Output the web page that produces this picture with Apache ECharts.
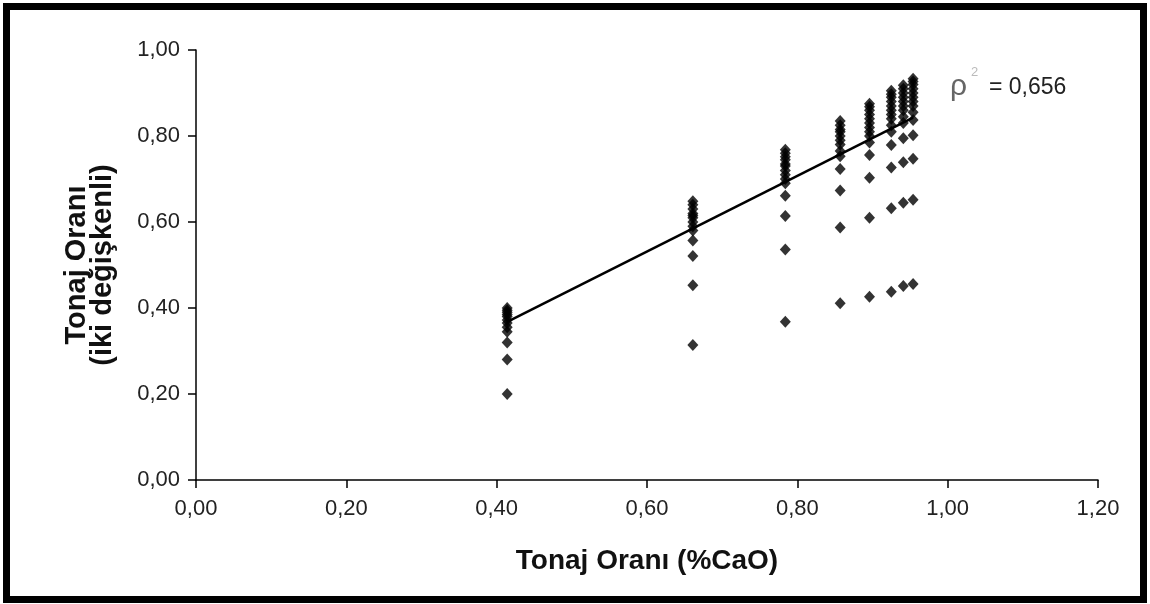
<!DOCTYPE html>
<html><head><meta charset="utf-8">
<script src="https://cdn.jsdelivr.net/npm/echarts@6/dist/echarts.min.js"></script>
<style>html,body{margin:0;padding:0;background:#fff}#c{width:1150px;height:604px}</style>
</head><body><div id="c"></div>
<script>
// Column x-values (Tonaj Oranı %CaO)
const xValues = [0.414, 0.661, 0.784, 0.857, 0.896, 0.925, 0.941, 0.954];
// y-values for each column (Tonaj Oranı, iki değişkenli)
const col1 = [0.20, 0.28, 0.32, 0.345, 0.355, 0.365, 0.372, 0.38, 0.385, 0.39, 0.395, 0.40];
const col2 = [0.314, 0.453, 0.521, 0.557, 0.58, 0.59, 0.60, 0.61, 0.615, 0.62, 0.63, 0.64, 0.648];
const col3 = [0.368, 0.536, 0.614, 0.661, 0.69, 0.70, 0.71, 0.72, 0.73, 0.735, 0.745, 0.752, 0.76, 0.768];
const col4 = [0.411, 0.587, 0.673, 0.723, 0.753, 0.765, 0.78, 0.79, 0.80, 0.81, 0.815, 0.825, 0.835];
const col5 = [0.426, 0.610, 0.703, 0.756, 0.785, 0.80, 0.81, 0.82, 0.83, 0.84, 0.85, 0.86, 0.868, 0.875];
const col6 = [0.438, 0.632, 0.727, 0.779, 0.81, 0.825, 0.84, 0.85, 0.86, 0.87, 0.88, 0.89, 0.897, 0.905];
const col7 = [0.451, 0.645, 0.739, 0.795, 0.83, 0.845, 0.86, 0.87, 0.88, 0.89, 0.90, 0.91, 0.918];
const col8 = [0.456, 0.652, 0.747, 0.802, 0.837, 0.855, 0.87, 0.88, 0.89, 0.90, 0.91, 0.92, 0.927, 0.933];
const columns = [col1, col2, col3, col4, col5, col6, col7, col8];
// Trend line endpoints
const trendX = [0.414, 0.954];
const trendY = [0.368, 0.843];
const xTicks = [0, 0.2, 0.4, 0.6, 0.8, 1.0, 1.2];
const yTicks = [0, 0.2, 0.4, 0.6, 0.8, 1.0];
const r2Text = '= 0,656';

const pts = [];
columns.forEach((col, i) => col.forEach(v => pts.push([xValues[i], v])));
const trend = trendX.map((x, i) => [x, trendY[i]]);
const fmt = v => v.toFixed(2).replace('.', ',');
const font = 'Liberation Sans, Arial, sans-serif';

const chart = echarts.init(document.getElementById('c'));
chart.setOption({
  animation: false,
  backgroundColor: '#fff',
  grid: { left: 196, right: 52, top: 50, bottom: 124 },
  xAxis: {
    type: 'value', min: xTicks[0], max: xTicks[xTicks.length - 1], interval: 0.2,
    splitLine: { show: false },
    axisLine: { lineStyle: { color: '#000', width: 1.5 } },
    axisTick: { length: 8, lineStyle: { color: '#000', width: 1.5 } },
    axisLabel: { formatter: fmt, color: '#222', fontSize: 22, fontFamily: font, margin: 18 },
    name: 'Tonaj Oranı (%CaO)', nameLocation: 'middle', nameGap: 67,
    nameTextStyle: { fontSize: 28, fontWeight: 'bold', color: '#111', fontFamily: font }
  },
  yAxis: {
    type: 'value', min: yTicks[0], max: yTicks[yTicks.length - 1], interval: 0.2,
    splitLine: { show: false },
    axisLine: { show: true, lineStyle: { color: '#000', width: 1.5 } },
    axisTick: { show: true, length: 8, lineStyle: { color: '#000', width: 1.5 } },
    axisLabel: { formatter: fmt, color: '#222', fontSize: 22, fontFamily: font, margin: 16 },
    name: 'Tonaj Oranı\n(iki değişkenli)', nameLocation: 'middle', nameGap: 80,
    nameTextStyle: { fontSize: 29, fontWeight: 'bold', color: '#111', fontFamily: font, lineHeight: 26 }
  },
  series: [
    { type: 'scatter', data: pts, symbol: 'diamond', symbolSize: [11, 12],
      itemStyle: { color: '#000' }, z: 3 },
    { type: 'line', data: trend, symbol: 'none', lineStyle: { color: '#000', width: 2.5 }, z: 2 }
  ],
  graphic: [
    { type: 'rect', shape: { x: 6.5, y: 6.5, width: 1137, height: 593 },
      style: { fill: 'none', stroke: '#000', lineWidth: 7 }, z: 10 },
    { type: 'text', left: 950, top: 72, z: 10,
      style: { text: 'ρ', font: '30px ' + font, fill: '#666' } },
    { type: 'text', left: 971, top: 66, z: 10,
      style: { text: '2', font: '13px ' + font, fill: '#bbb' } },
    { type: 'text', left: 989, top: 76, z: 10,
      style: { text: r2Text, font: '23px ' + font, fill: '#222' } }
  ]
});
</script></body></html>
